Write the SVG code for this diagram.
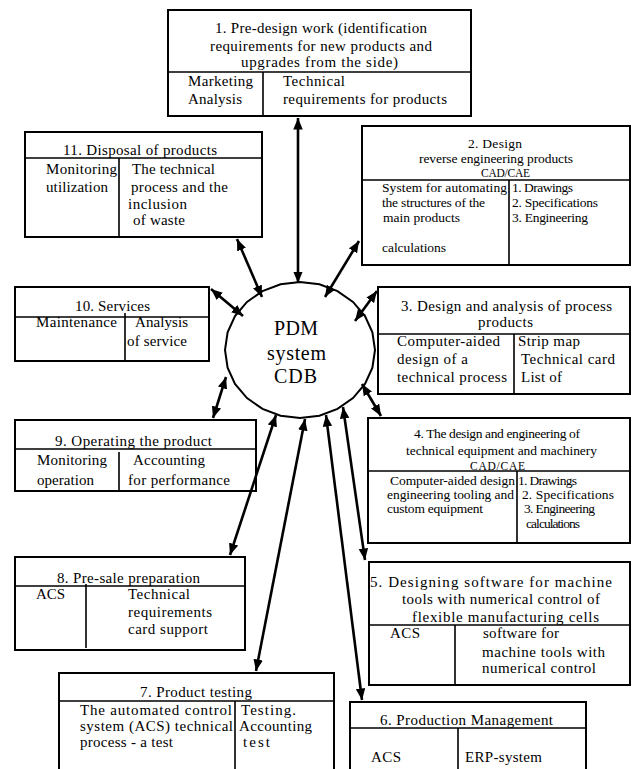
<svg xmlns="http://www.w3.org/2000/svg" width="632" height="769" viewBox="0 0 632 769">
  <style>
    .t { font-family: "Liberation Serif", "Times New Roman", serif; font-size: 15px; fill: #000; }
    .s { font-size: 13.5px; }
    .cad { font-size: 11.5px; }
    .big { font-size: 20px; }
    .frame { fill: #fff; stroke: #000; stroke-width: 2; }
    .div { fill: none; stroke: #000; stroke-width: 1.6; }
    .arr { stroke: #000; stroke-width: 2.6; fill: none; marker-start: url(#head); marker-end: url(#head); }
  </style>
  <defs>
    <marker id="head" markerUnits="userSpaceOnUse" markerWidth="13" markerHeight="10" refX="11.5" refY="4.75" orient="auto-start-reverse">
      <path d="M0,0 L11.5,4.75 L0,9.5 Z" fill="#000"/>
    </marker>
  </defs>
  <rect width="632" height="769" fill="#fff"/>

  <!-- central database -->
  <g id="pdm">
    <polygon class="frame" points="375,350 372.4,367.6 365,384 353,398.1 337.5,408.9 319.4,415.7 300,418 280.6,415.7 262.5,408.9 247,398.1 235,384 227.6,367.6 225,350 227.6,332.4 235,316 247,301.9 262.5,291.1 280.6,284.3 300,282 319.4,284.3 337.5,291.1 353,301.9 365,316 372.4,332.4"/>
    <text class="t big" x="274" y="335" textLength="44">PDM</text>
    <text class="t big" x="267" y="360" textLength="59">system</text>
    <text class="t big" x="274" y="383" textLength="43">CDB</text>
  </g>

  <!-- 1 -->
  <g id="n1">
    <rect class="frame" x="168" y="10" width="303" height="106"/>
    <path class="div" d="M168,72 H471 M263,72 V116"/>
    <text class="t" x="215" y="33" textLength="212">1. Pre-design work (identification</text>
    <text class="t" x="210" y="51" textLength="222">requirements for new products and</text>
    <text class="t" x="241" y="67" textLength="157">upgrades from the side)</text>
    <text class="t" x="188" y="86" textLength="65">Marketing</text>
    <text class="t" x="188" y="104" textLength="54">Analysis</text>
    <text class="t" x="283" y="86" textLength="62">Technical</text>
    <text class="t" x="283" y="104" textLength="164">requirements for products</text>
  </g>

  <!-- 11 -->
  <g id="n11">
    <rect class="frame" x="25" y="132" width="237" height="105"/>
    <path class="div" d="M25,158 H262 M119,158 V237"/>
    <text class="t" x="63" y="155" textLength="154">11. Disposal of products</text>
    <text class="t" x="46" y="174" textLength="71">Monitoring</text>
    <text class="t" x="46" y="192" textLength="62">utilization</text>
    <text class="t" x="132" y="174" textLength="83">The technical</text>
    <text class="t" x="131" y="192" textLength="97">process and the</text>
    <text class="t" x="128" y="209" textLength="59">inclusion</text>
    <text class="t" x="133" y="225" textLength="52">of waste</text>
  </g>

  <!-- 2 -->
  <g id="n2">
    <rect class="frame" x="362" y="126" width="268" height="139"/>
    <path class="div" d="M362,180 H630 M509,180 V265"/>
    <text class="t s" x="468" y="148" textLength="54">2. Design</text>
    <text class="t s" x="419" y="163" textLength="154">reverse engineering products</text>
    <text class="t cad" x="481" y="177" textLength="49">CAD/CAE</text>
    <text class="t s" x="382" y="192" textLength="125">System for automating</text>
    <text class="t s" x="382" y="207" textLength="103">the structures of the</text>
    <text class="t s" x="383" y="222" textLength="77">main products</text>
    <text class="t s" x="382" y="252" textLength="64">calculations</text>
    <text class="t s" x="512" y="192" textLength="61">1. Drawings</text>
    <text class="t s" x="512" y="207" textLength="86">2. Specifications</text>
    <text class="t s" x="512" y="222" textLength="76">3. Engineering</text>
  </g>

  <!-- 10 -->
  <g id="n10">
    <rect class="frame" x="15" y="287" width="194" height="74"/>
    <path class="div" d="M15,317 H209 M125,313 V361"/>
    <text class="t" x="75" y="311" textLength="75">10. Services</text>
    <text class="t" x="36" y="327" textLength="81">Maintenance</text>
    <text class="t" x="135" y="327" textLength="53">Analysis</text>
    <text class="t" x="127" y="346" textLength="60">of service</text>
  </g>

  <!-- 3 -->
  <g id="n3">
    <rect class="frame" x="378" y="287" width="252" height="107"/>
    <path class="div" d="M378,334 H630 M514,334 V394"/>
    <text class="t" x="401" y="311" textLength="211">3. Design and analysis of process</text>
    <text class="t" x="478" y="327" textLength="55">products</text>
    <text class="t" x="397" y="346" textLength="103">Computer-aided</text>
    <text class="t" x="397" y="364" textLength="71">design of a</text>
    <text class="t" x="397" y="382" textLength="110">technical process</text>
    <text class="t" x="518" y="346" textLength="62">Strip map</text>
    <text class="t" x="521" y="364" textLength="94">Technical card</text>
    <text class="t" x="521" y="382" textLength="41">List of</text>
  </g>

  <!-- 9 -->
  <g id="n9">
    <rect class="frame" x="15" y="420" width="241" height="71"/>
    <path class="div" d="M15,449 H256 M119,452 V491"/>
    <text class="t" x="55" y="446" textLength="157">9. Operating the product</text>
    <text class="t" x="37" y="465" textLength="70">Monitoring</text>
    <text class="t" x="37" y="485" textLength="57">operation</text>
    <text class="t" x="133" y="465" textLength="72">Accounting</text>
    <text class="t" x="128" y="485" textLength="102">for performance</text>
  </g>

  <!-- 4 -->
  <g id="n4">
    <rect class="frame" x="368" y="418" width="262" height="125"/>
    <path class="div" d="M368,471 H630 M517,471 V543"/>
    <text class="t s" x="414" y="438" textLength="166">4. The design and engineering of</text>
    <text class="t s" x="406" y="455" textLength="191">technical equipment and machinery</text>
    <text class="t cad" x="470" y="470" textLength="55">CAD/CAE</text>
    <text class="t s" x="390" y="485" textLength="125">Computer-aided design</text>
    <text class="t s" x="387" y="499" textLength="127">engineering tooling and</text>
    <text class="t s" x="387" y="513" textLength="96">custom equipment</text>
    <text class="t s" x="518" y="485" textLength="59">1. Drawings</text>
    <text class="t s" x="522" y="499" textLength="92">2. Specifications</text>
    <text class="t s" x="524" y="513" textLength="71">3. Engineering</text>
    <text class="t s" x="526" y="528" textLength="54">calculations</text>
  </g>

  <!-- 8 -->
  <g id="n8">
    <rect class="frame" x="15" y="557" width="230" height="93"/>
    <path class="div" d="M15,586 H245 M86,584 V648"/>
    <text class="t" x="57" y="583" textLength="143">8. Pre-sale preparation</text>
    <text class="t" x="36" y="599" textLength="29">ACS</text>
    <text class="t" x="128" y="599" textLength="62">Technical</text>
    <text class="t" x="128" y="617" textLength="84">requirements</text>
    <text class="t" x="128" y="634" textLength="80">card support</text>
  </g>

  <!-- 5 -->
  <g id="n5">
    <rect class="frame" x="369" y="562" width="261" height="123"/>
    <path class="div" d="M369,625 H630 M455,625 V685"/>
    <text class="t" x="370" y="587" textLength="242">5. Designing software for machine</text>
    <text class="t" x="402" y="604" textLength="198">tools with numerical control of</text>
    <text class="t" x="412" y="622" textLength="187">flexible manufacturing cells</text>
    <text class="t" x="390" y="638" textLength="30">ACS</text>
    <text class="t" x="483" y="638" textLength="76">software for</text>
    <text class="t" x="482" y="657" textLength="123">machine tools with</text>
    <text class="t" x="482" y="673" textLength="114">numerical control</text>
  </g>

  <!-- 7 -->
  <g id="n7">
    <rect class="frame" x="59" y="673" width="275" height="100"/>
    <path class="div" d="M59,701 H334 M235,701 V773"/>
    <text class="t" x="140" y="697" textLength="112">7. Product testing</text>
    <text class="t" x="80" y="715" textLength="152">The automated control</text>
    <text class="t" x="80" y="731" textLength="153">system (ACS) technical</text>
    <text class="t" x="80" y="747" textLength="93">process - a test</text>
    <text class="t" x="241" y="715" textLength="55">Testing.</text>
    <text class="t" x="239" y="731" textLength="73">Accounting</text>
    <text class="t" x="243" y="747" textLength="27">test</text>
  </g>

  <!-- 6 -->
  <g id="n6">
    <rect class="frame" x="350" y="702" width="236" height="71"/>
    <path class="div" d="M350,728 H586 M458,728 V773"/>
    <text class="t" x="380" y="725" textLength="173">6. Production Management</text>
    <text class="t" x="371" y="762" textLength="30">ACS</text>
    <text class="t" x="465" y="762" textLength="77">ERP-system</text>
  </g>

  <!-- two-way links between the database and each stage -->
  <g id="links">
    <line class="arr" x1="298" y1="118" x2="298" y2="283"/>
    <line class="arr" x1="237" y1="239" x2="262" y2="297"/>
    <line class="arr" x1="359" y1="241" x2="325" y2="297"/>
    <line class="arr" x1="211" y1="289" x2="243" y2="316"/>
    <line class="arr" x1="377" y1="291" x2="355" y2="321"/>
    <line class="arr" x1="362" y1="384" x2="381" y2="416"/>
    <line class="arr" x1="226" y1="377" x2="213" y2="418"/>
    <line class="arr" x1="276" y1="415" x2="230" y2="555"/>
    <line class="arr" x1="305" y1="419" x2="256" y2="671"/>
    <line class="arr" x1="326" y1="415" x2="362" y2="700"/>
    <line class="arr" x1="343" y1="407" x2="365" y2="560"/>
  </g>
</svg>
